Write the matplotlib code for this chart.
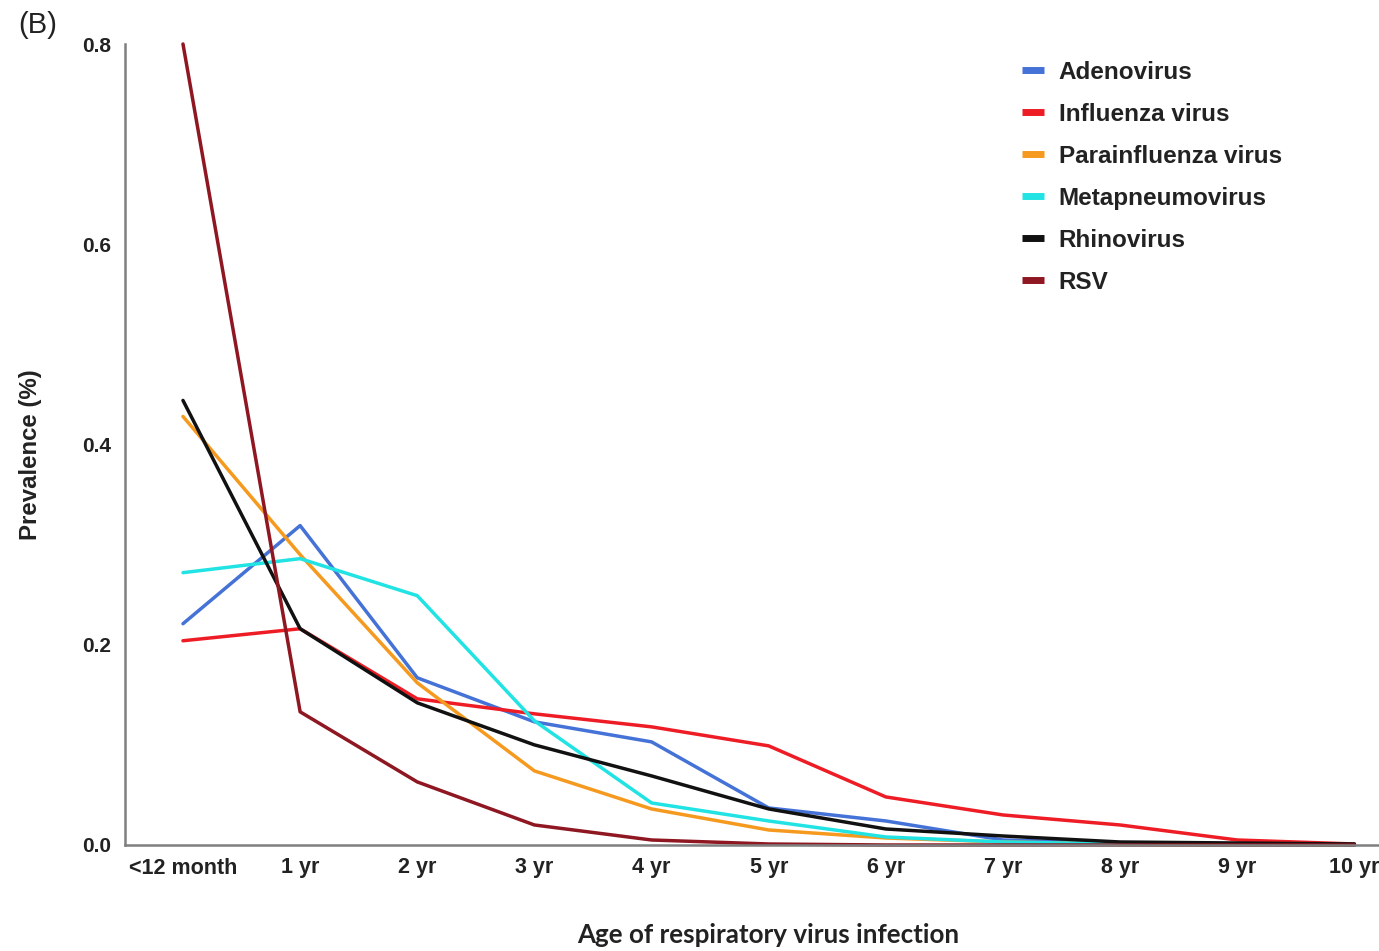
import matplotlib
matplotlib.use("Agg")
import matplotlib.pyplot as plt
from matplotlib.lines import Line2D

# Age groups on the x axis
age_groups = ["<12 month", "1 yr", "2 yr", "3 yr", "4 yr", "5 yr",
              "6 yr", "7 yr", "8 yr", "9 yr", "10 yr"]

# Prevalence per virus for each age group
adenovirus = [0.221, 0.319, 0.167, 0.123, 0.103, 0.037, 0.024, 0.005, 0.002, 0.001, 0.0]
influenza = [0.204, 0.216, 0.146, 0.131, 0.118, 0.099, 0.048, 0.030, 0.020, 0.005, 0.001]
parainfluenza = [0.428, 0.290, 0.162, 0.074, 0.036, 0.015, 0.007, 0.003, 0.001, 0.0, 0.0]
metapneumovirus = [0.272, 0.286, 0.249, 0.124, 0.042, 0.024, 0.008, 0.003, 0.001, 0.0, 0.0]
rhinovirus = [0.444, 0.216, 0.142, 0.100, 0.069, 0.036, 0.016, 0.009, 0.003, 0.002, 0.001]
rsv = [0.800, 0.133, 0.063, 0.020, 0.005, 0.001, 0.0, 0.0, 0.0, 0.0, 0.0]

series_names = ["Adenovirus", "Influenza virus", "Parainfluenza virus",
                "Metapneumovirus", "Rhinovirus", "RSV"]
series_values = [adenovirus, influenza, parainfluenza, metapneumovirus, rhinovirus, rsv]
series_colors = ["#4472D6", "#EE1C25", "#F59A1E", "#22E3E3", "#111111", "#8E1722"]

y_ticks = [0.0, 0.2, 0.4, 0.6, 0.8]

fig = plt.figure(figsize=(13.79, 9.51), dpi=100)
ax = fig.add_axes([125 / 1379, 106 / 951, 1 - 125 / 1379, 801 / 951])

x = list(range(len(age_groups)))
for name, vals, col in zip(series_names, series_values, series_colors):
    ax.plot(x, vals, color=col, lw=2.5, label=name, clip_on=False,
            solid_joinstyle="round", solid_capstyle="round")

ax.set_xlim(-0.495, 10.21)
ax.set_ylim(0, 0.8)

for side in ("top", "right"):
    ax.spines[side].set_visible(False)
for side in ("left", "bottom"):
    ax.spines[side].set_color("#7f7f7f")
    ax.spines[side].set_linewidth(1.8)

ax.set_xticks(x)
ax.set_xticklabels(age_groups, fontsize=15.5, fontweight="bold",
                   family="Liberation Sans", color="#222222")
ax.set_yticks(y_ticks)
ax.set_yticklabels([f"{v:.1f}" for v in y_ticks], fontsize=15, fontweight="bold",
                   family="Liberation Sans", color="#222222")
ax.tick_params(axis="both", length=0)
ax.tick_params(axis="x", pad=9)
ax.tick_params(axis="y", pad=10)

ax.set_ylabel("Prevalence (%)", fontsize=17.3, fontweight="bold",
              family="Liberation Sans", color="#222222")
ax.yaxis.set_label_coords(-0.066, 0.487)
ax.set_xlabel("Age of respiratory virus infection", fontsize=18.7, fontweight="bold",
              family="Lato", color="#222222")
ax.xaxis.set_label_coords(0.513, -0.098)

handles = [Line2D([0], [0], color=c, lw=5, solid_capstyle="butt") for c in series_colors]
leg = fig.legend(handles, series_names, loc="upper left",
                 bbox_to_anchor=(1000 / 1379, 1 - 39 / 951), frameon=False,
                 prop={"family": "Liberation Sans", "weight": "bold", "size": 17.5},
                 handlelength=0.9, handletextpad=0.62, labelspacing=0.78)
for t in leg.get_texts():
    t.set_color("#222222")

fig.text(18 / 1379, 1 - 25 / 951, "(B)", fontsize=21, family="Liberation Sans",
         va="center", ha="left", color="#222222")

fig.savefig("out.png", dpi=100, facecolor="white")
